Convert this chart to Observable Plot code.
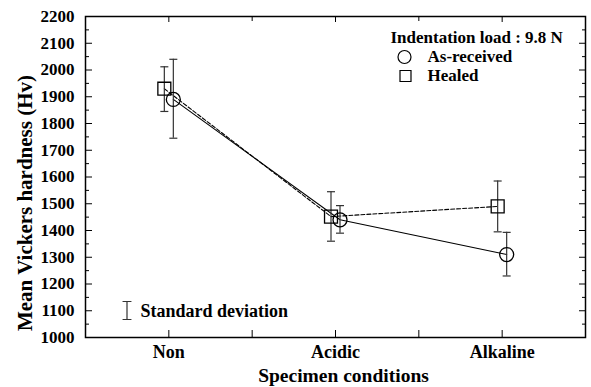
<!DOCTYPE html>
<html>
<head>
<meta charset="utf-8">
<script src="https://cdn.jsdelivr.net/npm/d3@7"></script>
<script src="https://cdn.jsdelivr.net/npm/@observablehq/plot@0.6"></script>
<style>
  html, body { margin: 0; padding: 0; background: #fff; }
  #chart svg { display: block; }
  #chart svg, #chart svg text { font-family: "Liberation Serif", serif !important; font-weight: bold; }
</style>
</head>
<body>
<div id="chart"></div>
<script>
// ---- data ----
const categories = ["Non", "Acidic", "Alkaline"];
const asReceived   = [1890, 1440, 1310];
const asReceivedHi = [2040, 1493, 1393];
const asReceivedLo = [1745, 1390, 1230];
const healed   = [1930, 1452, 1490];
const healedHi = [2012, 1545, 1585];
const healedLo = [1845, 1360, 1395];
const yTicks = [1000, 1100, 1200, 1300, 1400, 1500, 1600, 1700, 1800, 1900, 2000, 2100, 2200];
const yMinor = [1050, 1150, 1250, 1350, 1450, 1550, 1650, 1750, 1850, 1950, 2050, 2150];
const xTicks = [1, 2, 3];
const xMinor = [1.5, 2.5];
const legendTitle = "Indentation load : 9.8 N";
const seriesNames = ["As-received", "Healed"];
const sdLabel = "Standard deviation";
const xTitle = "Specimen conditions";
const yTitle = "Mean Vickers hardness (Hv)";

const asData = categories.map((c, i) => ({x: i + 1, v: asReceived[i], hi: asReceivedHi[i], lo: asReceivedLo[i]}));
const heData = categories.map((c, i) => ({x: i + 1, v: healed[i], hi: healedHi[i], lo: healedLo[i]}));

const cap = {draw(ctx) { ctx.moveTo(-4, 0); ctx.lineTo(4, 0); }};
const ibeam = {draw(ctx, l) {
  ctx.moveTo(0, 0); ctx.lineTo(0, -l);
  ctx.moveTo(-4, 0); ctx.lineTo(4, 0);
  ctx.moveTo(-4, -l); ctx.lineTo(4, -l);
}};

const DX_AS = 4.5, DX_HE = -4.5;
const ink = "black", errInk = "#333";
const T = {textAnchor: "start", lineAnchor: "middle", text: d => d};

const chart = Plot.plot({
  width: 591,
  height: 387,
  marginLeft: 85,
  marginRight: 6,
  marginTop: 16,
  marginBottom: 50,
  style: {fontSize: "17px", color: "black", background: "white"},
  x: {domain: [0.5, 3.5]},
  y: {domain: [1000, 2200]},
  marks: [
    // axes (inward ticks)
    Plot.axisY({anchor: "left", ticks: yTicks, tickSize: -7, tickPadding: 18, tickFormat: d => String(d), label: null, fontSize: 17}),
    Plot.axisY({anchor: "left", ticks: yMinor, tickSize: -4, tickFormat: () => "", label: null}),
    Plot.axisY({anchor: "right", ticks: yTicks, tickSize: -7, tickFormat: () => "", label: null}),
    Plot.axisY({anchor: "right", ticks: yMinor, tickSize: -4, tickFormat: () => "", label: null}),
    Plot.axisX({anchor: "bottom", ticks: xTicks, tickSize: -7, tickPadding: 15, tickFormat: d => categories[d - 1], label: null, fontSize: 18}),
    Plot.axisX({anchor: "bottom", ticks: xMinor, tickSize: -7, tickFormat: () => "", label: null}),
    Plot.axisX({anchor: "top", ticks: xTicks, tickSize: -5, tickFormat: () => "", label: null}),
    Plot.axisX({anchor: "top", ticks: xMinor, tickSize: -4, tickFormat: () => "", label: null}),
    Plot.frame({stroke: ink, strokeWidth: 1.5}),

    // lines
    Plot.line(asData, {x: "x", y: "v", dx: DX_AS, stroke: ink, strokeWidth: 1.1}),
    Plot.line(heData, {x: "x", y: "v", dx: DX_HE, stroke: ink, strokeWidth: 1.1, strokeDasharray: "4,2"}),

    // error bars
    Plot.ruleX(asData, {x: "x", y1: "lo", y2: "hi", dx: DX_AS, stroke: errInk, strokeWidth: 1.2}),
    Plot.ruleX(heData, {x: "x", y1: "lo", y2: "hi", dx: DX_HE, stroke: errInk, strokeWidth: 1.2}),
    Plot.dot(asData, {x: "x", y: "hi", dx: DX_AS, symbol: cap, fill: "none", stroke: errInk, strokeWidth: 1.2}),
    Plot.dot(asData, {x: "x", y: "lo", dx: DX_AS, symbol: cap, fill: "none", stroke: errInk, strokeWidth: 1.2}),
    Plot.dot(heData, {x: "x", y: "hi", dx: DX_HE, symbol: cap, fill: "none", stroke: errInk, strokeWidth: 1.2}),
    Plot.dot(heData, {x: "x", y: "lo", dx: DX_HE, symbol: cap, fill: "none", stroke: errInk, strokeWidth: 1.2}),

    // markers
    Plot.dot(asData, {x: "x", y: "v", dx: DX_AS, r: 7, symbol: "circle", fill: "none", stroke: ink, strokeWidth: 1.3}),
    Plot.dot(heData, {x: "x", y: "v", dx: DX_HE, r: 7.3, symbol: "square", fill: "none", stroke: ink, strokeWidth: 1.3}),

    // legend
    Plot.text([legendTitle], {...T, frameAnchor: "top-left", dx: 305, dy: 21, fontSize: 17}),
    Plot.dot([seriesNames[0]], {frameAnchor: "top-left", dx: 319, dy: 40.5, r: 6.5, symbol: "circle", fill: "none", stroke: ink, strokeWidth: 1.2}),
    Plot.text([seriesNames[0]], {...T, frameAnchor: "top-left", dx: 342, dy: 40.5, fontSize: 17}),
    Plot.dot([seriesNames[1]], {frameAnchor: "top-left", dx: 320, dy: 59.5, r: 6.2, symbol: "square", fill: "none", stroke: ink, strokeWidth: 1.2}),
    Plot.text([seriesNames[1]], {...T, frameAnchor: "top-left", dx: 342, dy: 59.5, fontSize: 17}),

    // standard deviation key
    Plot.vector([sdLabel], {frameAnchor: "bottom-left", dx: 41.5, dy: -27, length: 18, anchor: "middle", shape: ibeam, stroke: errInk, strokeWidth: 1.2}),
    Plot.text([sdLabel], {...T, frameAnchor: "bottom-left", dx: 55, dy: -26, fontSize: 18}),

    // axis titles
    Plot.text([xTitle], {text: d => d, frameAnchor: "bottom", textAnchor: "middle", lineAnchor: "middle", dx: 8, dy: 38.5, fontSize: 19.5}),
    Plot.text([yTitle], {text: d => d, frameAnchor: "left", textAnchor: "middle", lineAnchor: "middle", rotate: -90, dx: -60, dy: 26, fontSize: 21})
  ]
});
document.getElementById("chart").appendChild(chart);
</script>
</body>
</html>
